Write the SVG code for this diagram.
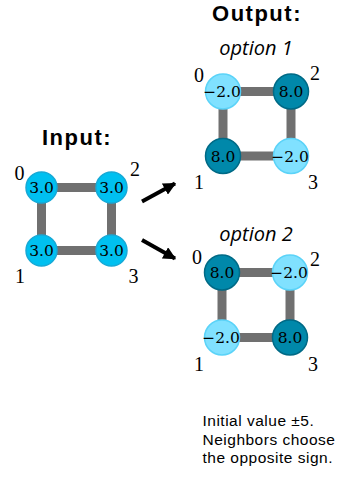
<svg xmlns="http://www.w3.org/2000/svg" width="346" height="478" viewBox="0 0 346 478">
<style>
.title{font-family:"Liberation Sans","Open Sans",sans-serif;font-weight:bold;font-size:22px;letter-spacing:1.5px;fill:#000;text-anchor:middle}
.opt{font-family:"Open Sans","Liberation Sans",sans-serif;font-style:italic;font-size:20px;fill:#000;text-anchor:middle}
.lbl{font-family:"Liberation Serif",serif;font-size:20px;fill:#000;text-anchor:middle}
.val{font-family:"DejaVu Serif",serif;font-size:15.5px;fill:#000;text-anchor:middle}
.note{font-family:"Liberation Sans",sans-serif;font-size:15.5px;letter-spacing:0.5px;fill:#000}
.edge{stroke:#707070;stroke-width:9;fill:none}
.mid{fill:#00C0F0;stroke:#17A9D6;stroke-width:1.5}
.light{fill:#80E1FF;stroke:#5BD3F8;stroke-width:1.5}
.dark{fill:#0088AA;stroke:#006A86;stroke-width:1.5}
.arrow{stroke:#000;stroke-width:4;fill:none}
</style>
<defs>
<marker id="ah" viewBox="0 0 10 10" refX="9" refY="5" markerWidth="3.2" markerHeight="3.2" orient="auto" markerUnits="strokeWidth">
<path d="M0,0 L10,5 L0,10 Z" fill="#000"/>
</marker>
</defs>
<text class="title" x="77" y="145">Input:</text>
<text class="title" x="257" y="21">Output:</text>
<text class="opt" x="256" y="55">option 1</text>
<text class="opt" x="256" y="241">option 2</text>
<g id="connectors">
<line class="edge" x1="41.5" y1="187.5" x2="111.5" y2="187.5"/>
<line class="edge" x1="41.5" y1="250.5" x2="111.5" y2="250.5"/>
<line class="edge" x1="41.5" y1="187.5" x2="41.5" y2="250.5"/>
<line class="edge" x1="111.5" y1="187.5" x2="111.5" y2="250.5"/>
<line class="edge" x1="223" y1="91.5" x2="291" y2="91.5"/>
<line class="edge" x1="223" y1="156" x2="291" y2="156"/>
<line class="edge" x1="223" y1="91.5" x2="223" y2="156"/>
<line class="edge" x1="291" y1="91.5" x2="291" y2="156"/>
<line class="edge" x1="222" y1="272.5" x2="290" y2="272.5"/>
<line class="edge" x1="222" y1="337.5" x2="290" y2="337.5"/>
<line class="edge" x1="222" y1="272.5" x2="222" y2="337.5"/>
<line class="edge" x1="290" y1="272.5" x2="290" y2="337.5"/>
<line class="arrow" x1="142" y1="201.5" x2="175" y2="183.5" marker-end="url(#ah)"/>
<line class="arrow" x1="142" y1="240" x2="175" y2="258.5" marker-end="url(#ah)"/>
</g>
<g id="in0"><circle class="mid" cx="41.5" cy="187.5" r="15.5"/><text class="val" x="41.5" y="193">3.0</text><text class="lbl" x="19.5" y="179.5">0</text></g>
<g id="in2"><circle class="mid" cx="111.5" cy="187.5" r="15.5"/><text class="val" x="111.5" y="193">3.0</text><text class="lbl" x="135" y="176">2</text></g>
<g id="in1"><circle class="mid" cx="41.5" cy="250.5" r="15.5"/><text class="val" x="41.5" y="256">3.0</text><text class="lbl" x="20" y="283">1</text></g>
<g id="in3"><circle class="mid" cx="111.5" cy="250.5" r="15.5"/><text class="val" x="111.5" y="256">3.0</text><text class="lbl" x="133.5" y="283">3</text></g>
<g id="o1n0"><circle class="light" cx="223" cy="91.5" r="17.5"/><text class="val" x="222" y="97">−2.0</text><text class="lbl" x="199" y="82">0</text></g>
<g id="o1n2"><circle class="dark" cx="291" cy="91.5" r="17.5"/><text class="val" x="291" y="97">8.0</text><text class="lbl" x="315" y="80">2</text></g>
<g id="o1n1"><circle class="dark" cx="223" cy="156" r="17.5"/><text class="val" x="223" y="161.5">8.0</text><text class="lbl" x="199" y="189">1</text></g>
<g id="o1n3"><circle class="light" cx="291" cy="156" r="17.5"/><text class="val" x="290" y="161.5">−2.0</text><text class="lbl" x="313" y="189">3</text></g>
<g id="o2n0"><circle class="dark" cx="222" cy="272.5" r="17.5"/><text class="val" x="222" y="278">8.0</text><text class="lbl" x="197" y="264">0</text></g>
<g id="o2n2"><circle class="light" cx="290" cy="272.5" r="17.5"/><text class="val" x="289" y="278">−2.0</text><text class="lbl" x="315" y="265.5">2</text></g>
<g id="o2n1"><circle class="light" cx="222" cy="337.5" r="17.5"/><text class="val" x="221" y="343">−2.0</text><text class="lbl" x="199" y="371">1</text></g>
<g id="o2n3"><circle class="dark" cx="290" cy="337.5" r="17.5"/><text class="val" x="290" y="343">8.0</text><text class="lbl" x="313" y="371">3</text></g>
<text class="note" x="202.5" y="426">Initial value ±5.</text>
<text class="note" x="202.5" y="444.5">Neighbors choose</text>
<text class="note" x="202.5" y="463">the opposite sign.</text>
</svg>
